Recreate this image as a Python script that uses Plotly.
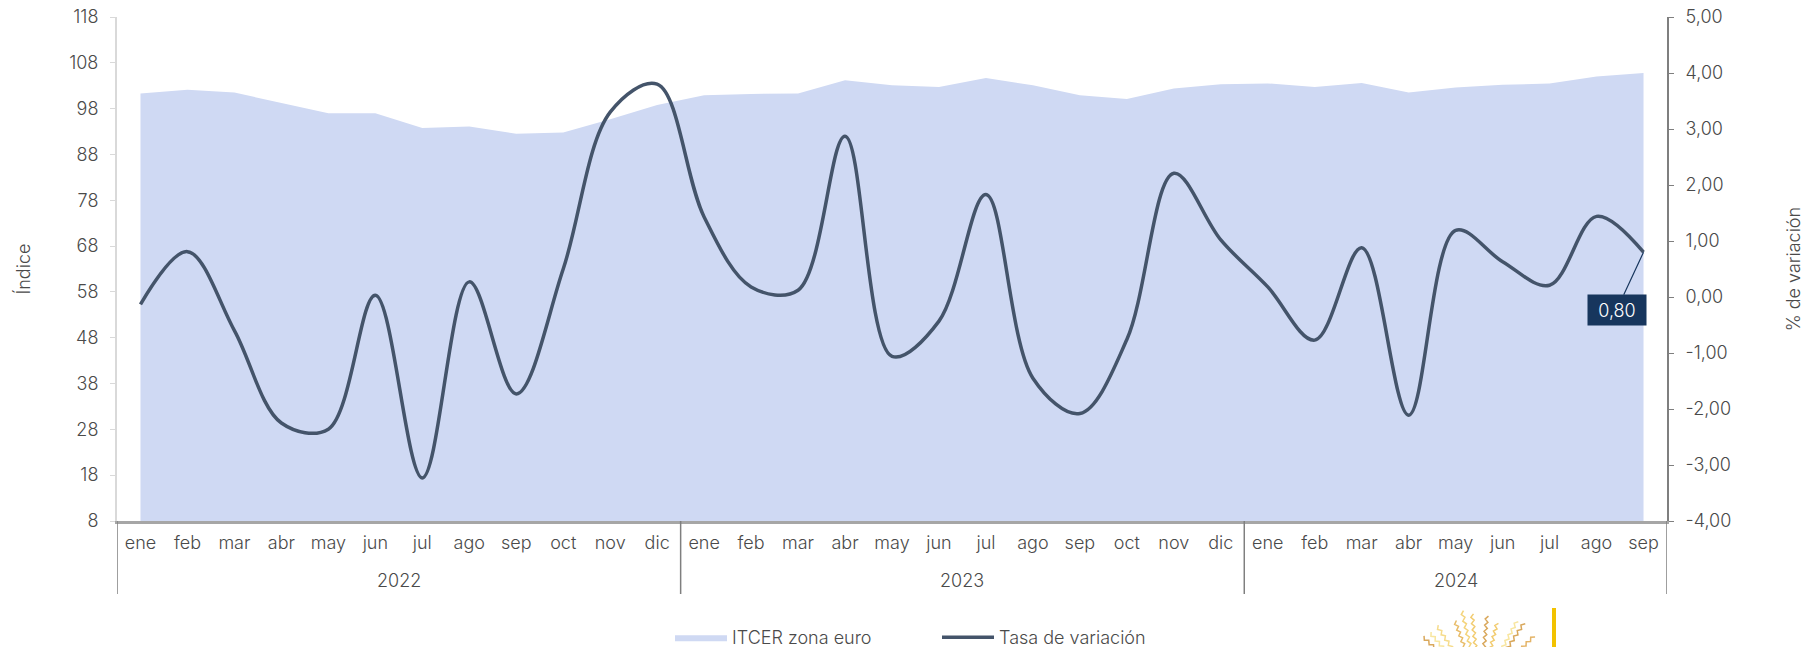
import math
import plotly.graph_objects as go

years = ["2022"] * 12 + ["2023"] * 12 + ["2024"] * 9
months = ["ene", "feb", "mar", "abr", "may", "jun", "jul", "ago", "sep", "oct", "nov", "dic",
          "ene", "feb", "mar", "abr", "may", "jun", "jul", "ago", "sep", "oct", "nov", "dic",
          "ene", "feb", "mar", "abr", "may", "jun", "jul", "ago", "sep"]
itcer = [101.3, 102.1, 101.5, 99.3, 97.0, 97.0, 93.8, 94.1, 92.5, 92.8, 95.7, 98.8,
         100.9, 101.2, 101.3, 104.2, 103.1, 102.7, 104.7, 103.1, 100.9, 100.1, 102.4, 103.3,
         103.5, 102.7, 103.6, 101.5, 102.6, 103.2, 103.5, 105.0, 105.8]
tasa = [-0.13, 0.81, -0.60, -2.25, -2.36, 0.03, -3.23, 0.27, -1.73, 0.50, 3.30, 3.80,
        1.43, 0.18, 0.12, 2.87, -1.06, -0.43, 1.83, -1.45, -2.08, -0.76, 2.21, 1.02,
        0.18, -0.77, 0.88, -2.11, 1.19, 0.63, 0.21, 1.44, 0.80]
left_ticks = [8, 18, 28, 38, 48, 58, 68, 78, 88, 98, 108, 118]
right_ticks = [-4, -3, -2, -1, 0, 1, 2, 3, 4, 5]
right_labels = ["-4,00", "-3,00", "-2,00", "-1,00", "0,00", "1,00", "2,00", "3,00", "4,00", "5,00"]

# Decorative logo fragment at the foot of the page (page pixels)
ray_tips = [(1423, 637, "#D9A85C"), (1430, 633, "#F8E6A0"), (1437, 626, "#F6DC8C"),
            (1455, 621, "#E8BC68"), (1462, 611, "#F4D47C"), (1472, 614, "#F2CC70"),
            (1487, 616, "#D9A85C"), (1497, 623, "#F2CC70"), (1517, 621, "#F8E6A0"),
            (1524, 623, "#D9A85C"), (1534, 636, "#E4B468")]
logo_centre = (1480, 690)

FONT = "Inter Light, Inter"
TXT = "#4A4A4A"
W, H = 1804, 647
L, R, T, B = 117, 137, 17, 126
PW, PH = W - L - R, H - T - B
font = dict(family=FONT, size=18, color=TXT, weight=300)
xs = list(range(len(months)))


def ppx(x):
    return (x - L) / PW


def ppy(y):
    return (H - B - y) / PH


fig = go.Figure()
fig.add_trace(go.Scatter(x=xs, y=itcer, name="ITCER zona euro", mode="lines",
                         fill="tozeroy", fillcolor="#CFD9F3", line=dict(width=0, color="#CFD9F3")))
fig.add_trace(go.Scatter(x=xs, y=tasa, name="Tasa de variación", mode="lines", yaxis="y2",
                         line=dict(color="#44546A", width=3.5, shape="spline", smoothing=1.0)))

shapes = []
annotations = []
# year groups: dividers and centred labels derived from the category lists
group_years = sorted(set(years))
edges = [-0.5]
for yr in group_years:
    idx = [i for i, v in enumerate(years) if v == yr]
    edges.append(idx[-1] + 0.5)
    annotations.append(dict(x=(idx[0] + idx[-1]) / 2, y=ppy(580), xref="x", yref="paper", text=yr,
                            showarrow=False, font=font, yanchor="middle"))
for e in edges:
    shapes.append(dict(type="line", xref="x", yref="paper", x0=e, x1=e, y0=0, y1=ppy(594),
                       line=dict(color="#7F7F7F", width=1.5)))

shapes.append(dict(type="rect", xref="paper", yref="paper", x0=ppx(1552), x1=ppx(1556), y0=ppy(647), y1=ppy(608),
                   fillcolor="#F2C200", line=dict(width=0)))
for (tx, ty, col) in ray_tips:
    cx, cy = logo_centre
    d = math.hypot(tx - cx, ty - cy)
    ux, uy = (cx - tx) / d, (cy - ty) / d
    pts = []
    for k in range(0, 25):
        s = k * d / 24
        off = 1.5 if k % 2 else -1.5
        pts.append((tx + ux * s - uy * off, ty + uy * s + ux * off))
    path = "M" + " L".join(f"{ppx(a):.5f},{ppy(b):.5f}" for a, b in pts)
    shapes.append(dict(type="path", xref="paper", yref="paper", path=path, line=dict(color=col, width=1.5)))

annotations.append(dict(x=xs[-1], y=tasa[-1], xref="x", yref="y2", text="0,80", showarrow=True, arrowhead=0,
                        arrowcolor="#17365D", arrowwidth=1.2, ax=-27, ay=58, width=56, height=28,
                        bgcolor="#17365D", font=dict(family=FONT, size=18, color="white", weight=300)))

fig.update_layout(
    width=W, height=H, autosize=False,
    margin=dict(l=L, r=R, t=T, b=B, autoexpand=False),
    plot_bgcolor="white", paper_bgcolor="white",
    font=font,
    showlegend=True,
    legend=dict(orientation="h", x=ppx(670), xanchor="left", y=ppy(619), yanchor="top",
                itemwidth=52, entrywidth=200, entrywidthmode="pixels", font=font,
                bgcolor="rgba(0,0,0,0)", tracegroupgap=0),
    xaxis=dict(range=[-0.5, 32.5], tickvals=xs, ticktext=months, tickangle=0, showline=True,
               linecolor="#A6A6A6", linewidth=2.5, ticks="", ticklabelstandoff=4, tickfont=font,
               showgrid=False, zeroline=False, automargin=False),
    yaxis=dict(range=[8, 118], tickvals=left_ticks, showgrid=False, zeroline=False, showline=True,
               linecolor="#D9D9D9", linewidth=2, ticks="outside", ticklen=5, tickcolor="#D9D9D9",
               ticklabelstandoff=8, tickfont=font, automargin=False,
               title=dict(text="Índice", font=font, standoff=34)),
    yaxis2=dict(range=[-4, 5], overlaying="y", side="right", tickvals=right_ticks, ticktext=right_labels,
                showgrid=False, zeroline=False, showline=True, linecolor="#7F7F7F", linewidth=2,
                ticks="outside", ticklen=5, tickcolor="#7F7F7F", ticklabelstandoff=8, tickfont=font,
                automargin=False, title=dict(text="% de variación", font=font, standoff=58)),
    shapes=shapes,
    annotations=annotations,
)
fig.write_html("out.html", config={"displayModeBar": False},
               post_script="document.body.style.margin='0';document.body.style.overflow='hidden';")
